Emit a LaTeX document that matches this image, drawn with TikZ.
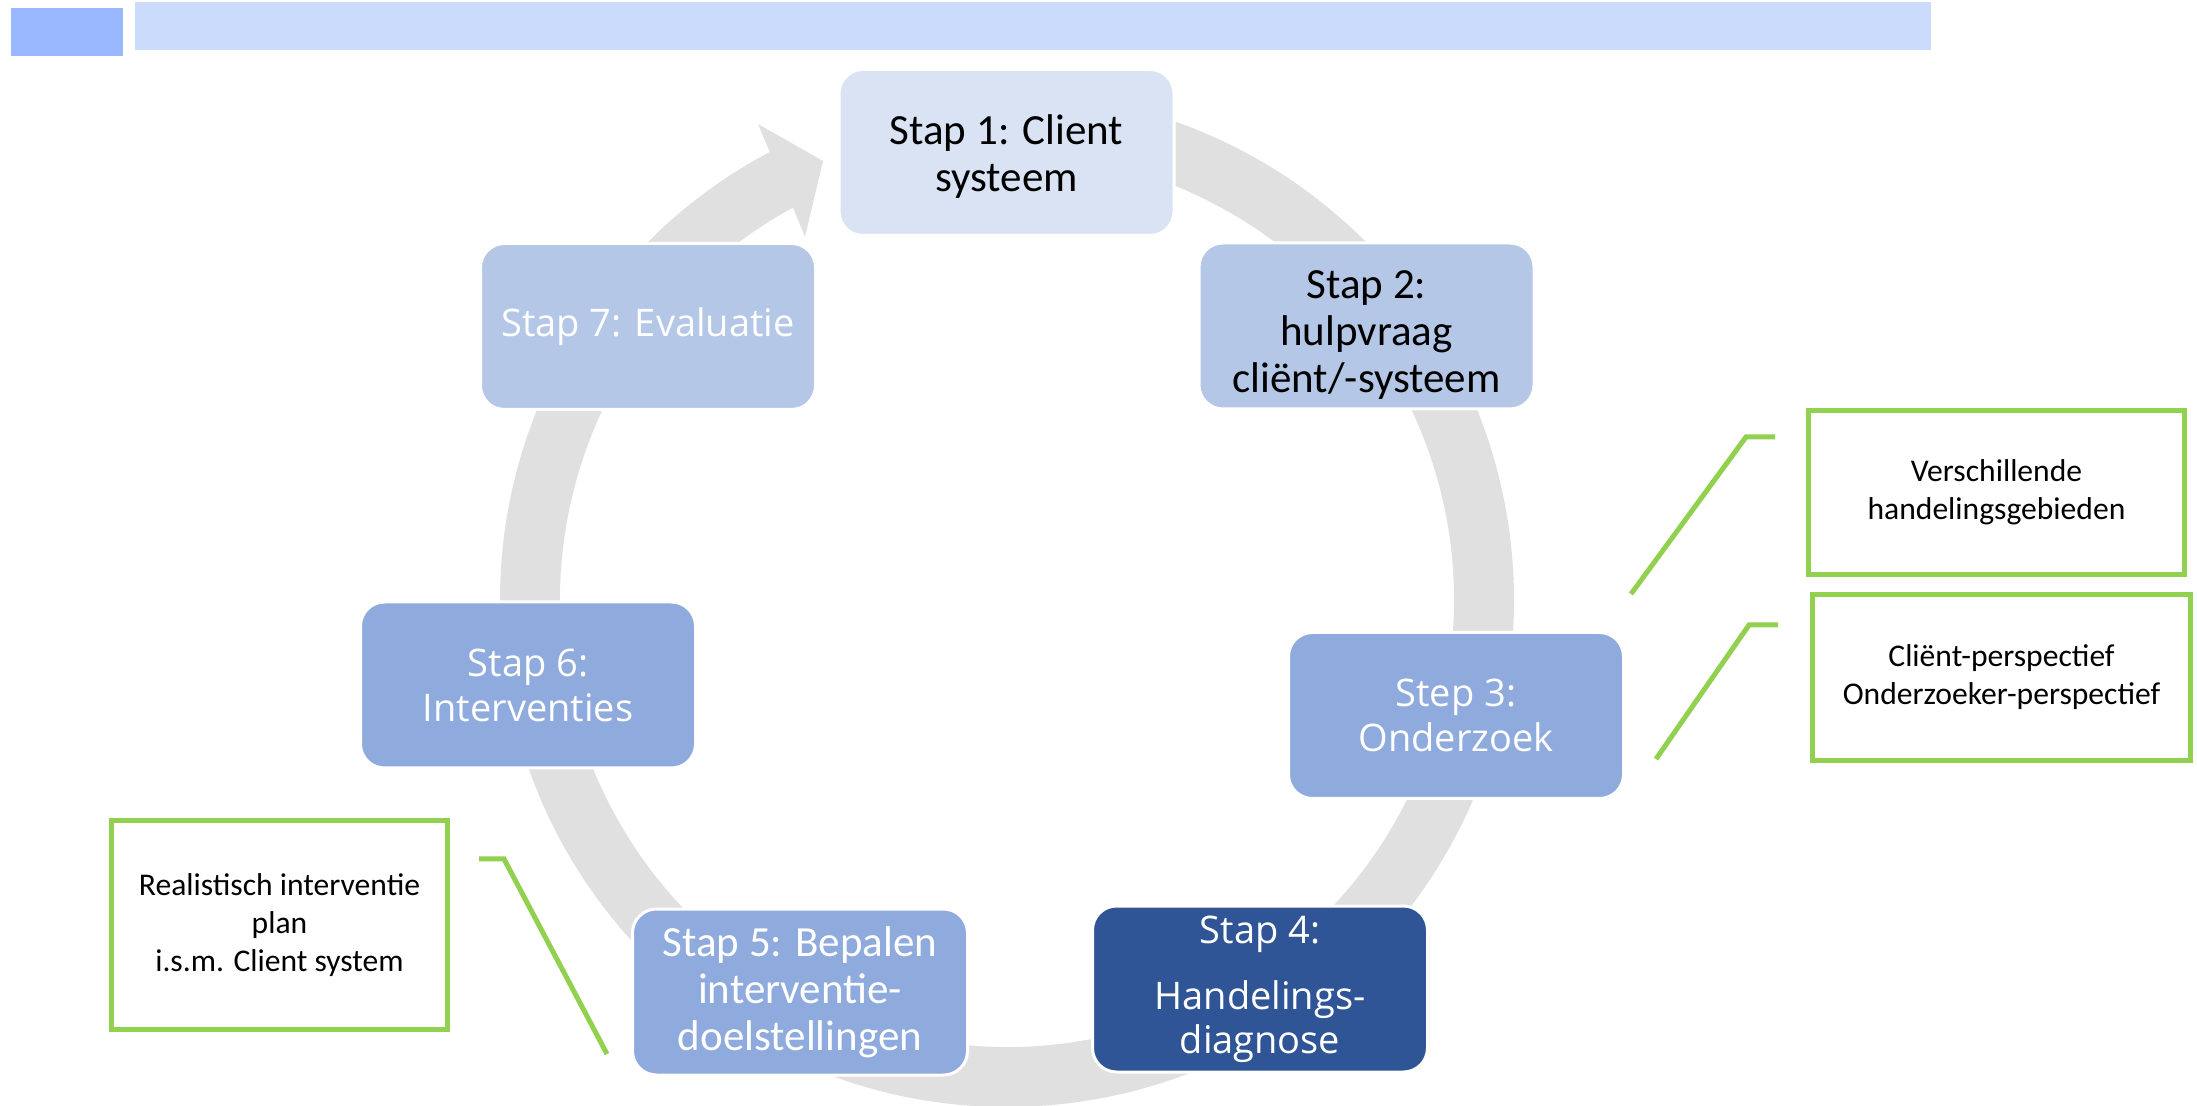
\documentclass[tikz,border=0pt]{standalone}
\usepackage{fontspec}
\setmainfont{Carlito}
\newfontfamily\segoe{Open Sans}
\definecolor{ringgray}{HTML}{E0E0E0}
\definecolor{cA}{HTML}{DAE3F3}
\definecolor{cB}{HTML}{B4C7E7}
\definecolor{cC}{HTML}{8FAADC}
\definecolor{cD}{HTML}{2F5597}
\definecolor{grn}{HTML}{92D050}
\definecolor{barsmall}{HTML}{99B8FF}
\definecolor{barbig}{HTML}{CADBFC}
\begin{document}
\begin{tikzpicture}[x=0.5pt,y=-0.5pt,
  stepbox/.style={rounded corners=12pt, draw=white, line width=1.5pt,
    minimum width=167.5pt, minimum height=83pt, align=center, inner sep=0pt},
  cal/.style={font=\fontsize{21.5}{23.5}\selectfont, text=black},
  calw/.style={font=\fontsize{21.5}{23.5}\selectfont, text=white},
  seg/.style={font=\segoe\fontsize{19}{22.5}\selectfont, text=white},
  segb/.style={font=\segoe\fontsize{19}{22}\selectfont, text=white},
  greenbox/.style={draw=grn, line width=2.5pt, fill=white, align=center, inner sep=0pt,
    font=\fontsize{15.8}{19}\selectfont},
  callout/.style={draw=grn, line width=2.5pt}
]
\useasboundingbox (0,0) rectangle (2197,1106);
% header bars
\fill[barsmall] (11,8) rectangle (123,56);
\fill[barbig] (135,2) rectangle (1931,50);
% cycle ring with arrow head
\coordinate (C) at (1007,600);
\path (C) ++(-95:507) coordinate (o1);
\path (C) ++(241.4:447) coordinate (i2);
\fill[ringgray] (o1) arc[start angle=-95, end angle=242.1, radius=507]
  -- (758,124) -- (823,161) -- (805,237) -- (i2)
  arc[start angle=241.4, end angle=-95, radius=447] -- cycle;
% steps
\node[stepbox, fill=cA, cal] (s1) at (1006.5,152.5) {\rule{0pt}{19pt}Stap 1: Client\\systeem};
\node[stepbox, fill=cB, cal] (s2) at (1366.5,326) {\rule{0pt}{23pt}Stap 2:\\hulpvraag\\cliënt/-systeem};
\node[stepbox, fill=cC, seg] (s3) at (1456,715.5) {Step 3:\\Onderzoek};
\node[stepbox, fill=cD, segb] (s4) at (1260,989) {Stap 4:\\[11pt]Handelings-\\diagnose};
\node[stepbox, fill=cC, calw] (s5) at (800,992) {Stap 5: Bepalen\\interventie-\\doelstellingen};
\node[stepbox, fill=cC, seg] (s6) at (528,685) {Stap 6:\\Interventies};
\node[stepbox, fill=cB, seg] (s7) at (648,326.5) {Stap 7: Evaluatie};
% notes
\node[greenbox, minimum width=188pt, minimum height=82pt] (n1) at (1996.5,492.5)
  {Verschillende\\handelingsgebieden};
\node[greenbox, minimum width=189pt, minimum height=83pt] (n2) at (2001.5,677.5)
  {Cliënt-perspectief\\Onderzoeker-perspectief};
\node[greenbox, minimum width=168pt, minimum height=104.5pt] (n3) at (279.5,925)
  {Realistisch interventie\\plan\\i.s.m. Client system};
% callout lines
\coordinate (a1) at (1631,594); \coordinate (a2) at (1746,437); \coordinate (a3) at (1775,437);
\coordinate (b1) at (1656,759); \coordinate (b2) at (1749,625); \coordinate (b3) at (1778,625);
\coordinate (c1) at (479,859); \coordinate (c2) at (504,859); \coordinate (c3) at (607,1054);
\draw[callout] (a1) -- (a2) -- (a3);
\draw[callout] (b1) -- (b2) -- (b3);
\draw[callout] (c1) -- (c2) -- (c3);
\end{tikzpicture}
\end{document}
